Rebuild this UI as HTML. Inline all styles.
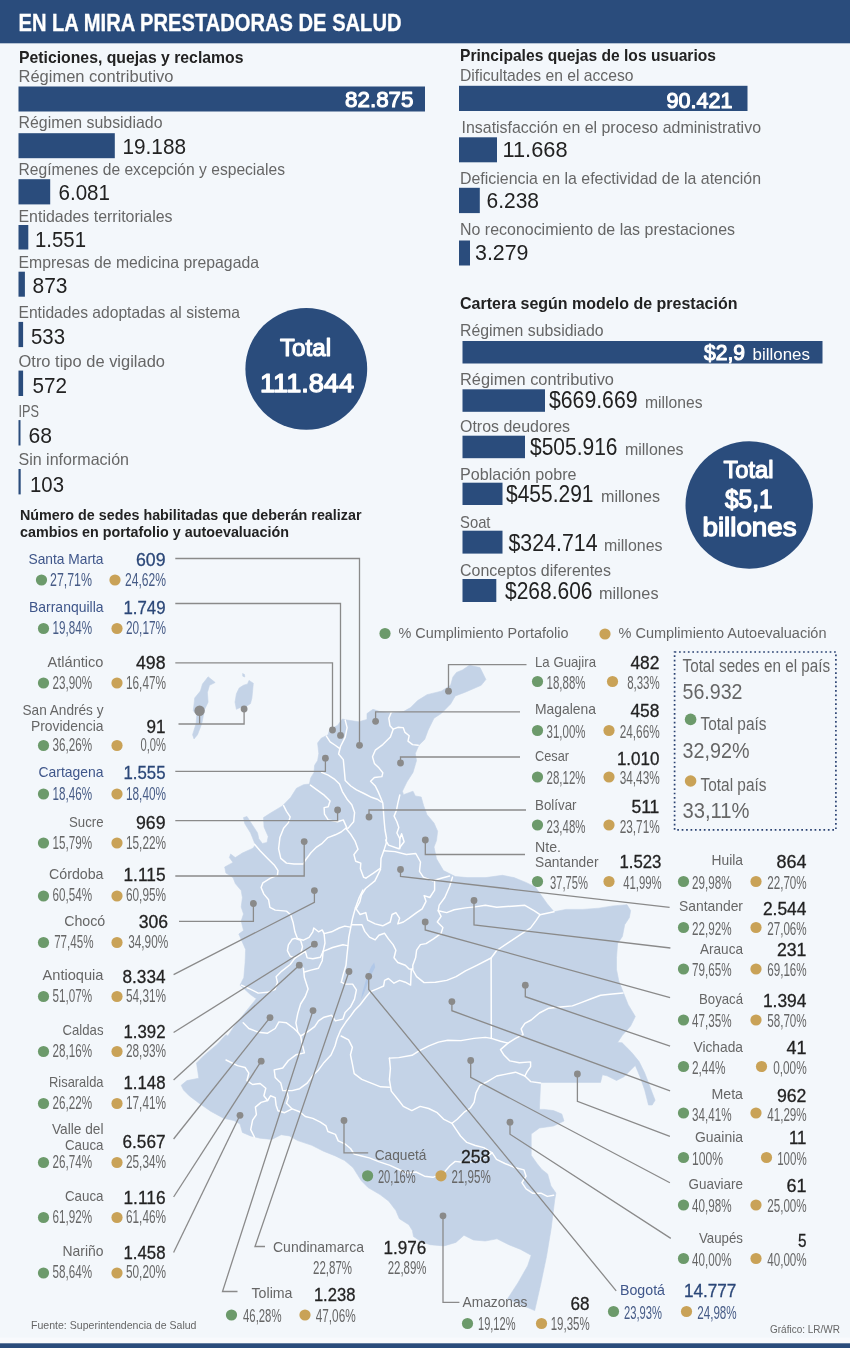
<!DOCTYPE html>
<html lang="es"><head><meta charset="utf-8"><title>En la mira prestadoras de salud</title>
<style>
html,body{margin:0;padding:0;background:#f3f7fb;}
body{width:850px;height:1348px;overflow:hidden;}
svg{display:block;font-family:"Liberation Sans",Arial,sans-serif;}
</style></head><body>
<svg width="850" height="1348" viewBox="0 0 850 1348">
<rect x="0" y="0" width="850" height="1348" fill="#f3f7fb"/>
<rect x="0" y="0" width="850" height="43.3" fill="#2a4c7c"/>
<text x="18.5" y="30.5" font-size="23.5" fill="#ffffff" font-weight="700" textLength="383" lengthAdjust="spacingAndGlyphs" stroke="#ffffff" stroke-width="0.3">EN LA MIRA PRESTADORAS DE SALUD</text>
<rect x="0" y="1337.5" width="850" height="6" fill="#f8fafd"/>
<rect x="0" y="1343.3" width="850" height="4.7" fill="#2a4c7c"/>
<text x="19" y="62.5" font-size="15.7" fill="#222222" font-weight="700" textLength="224.5" lengthAdjust="spacingAndGlyphs">Peticiones, quejas y reclamos</text>
<text x="18.5" y="81.5" font-size="16.5" fill="#666666" textLength="155" lengthAdjust="spacingAndGlyphs">Régimen contributivo</text>
<rect x="18.5" y="86.5" width="406.5" height="25" fill="#2a4c7c"/>
<text x="413.5" y="106.5" font-size="22" fill="#fff" text-anchor="end" textLength="68.5" lengthAdjust="spacingAndGlyphs" stroke="#fff" stroke-width="1.1" stroke-linejoin="round">82.875</text>
<text x="18.5" y="128.3" font-size="16.5" fill="#666666" textLength="144" lengthAdjust="spacingAndGlyphs">Régimen subsidiado</text>
<rect x="18.5" y="133.2" width="96.3" height="25" fill="#2a4c7c"/>
<text x="122.5" y="154" font-size="22" fill="#222222" textLength="63.5" lengthAdjust="spacingAndGlyphs">19.188</text>
<text x="18.5" y="175" font-size="16.5" fill="#666666" textLength="266.5" lengthAdjust="spacingAndGlyphs">Regímenes de excepción y especiales</text>
<rect x="18.5" y="179.2" width="31.7" height="25.2" fill="#2a4c7c"/>
<text x="58.5" y="200" font-size="22" fill="#222222" textLength="51.5" lengthAdjust="spacingAndGlyphs">6.081</text>
<text x="18.5" y="221.5" font-size="16.5" fill="#666666" textLength="154" lengthAdjust="spacingAndGlyphs">Entidades territoriales</text>
<rect x="18.5" y="225" width="9.8" height="24.5" fill="#2a4c7c"/>
<text x="35" y="246.5" font-size="22" fill="#222222" textLength="51" lengthAdjust="spacingAndGlyphs">1.551</text>
<text x="18.5" y="267.5" font-size="16.5" fill="#666666" textLength="240.5" lengthAdjust="spacingAndGlyphs">Empresas de medicina prepagada</text>
<rect x="18.5" y="271.7" width="6.4" height="25" fill="#2a4c7c"/>
<text x="32.5" y="292.5" font-size="22" fill="#222222" textLength="35" lengthAdjust="spacingAndGlyphs">873</text>
<text x="18.5" y="317.5" font-size="16.5" fill="#666666" textLength="221.5" lengthAdjust="spacingAndGlyphs">Entidades adoptadas al sistema</text>
<rect x="18.5" y="321.9" width="4.6" height="25.2" fill="#2a4c7c"/>
<text x="31" y="344" font-size="22" fill="#222222" textLength="34" lengthAdjust="spacingAndGlyphs">533</text>
<text x="18.5" y="366.5" font-size="16.5" fill="#666666" textLength="146.5" lengthAdjust="spacingAndGlyphs">Otro tipo de vigilado</text>
<rect x="18.5" y="370.6" width="4.6" height="25.4" fill="#2a4c7c"/>
<text x="32.5" y="393" font-size="22" fill="#222222" textLength="34.5" lengthAdjust="spacingAndGlyphs">572</text>
<text x="18.5" y="416.5" font-size="16.5" fill="#666666" textLength="20.5" lengthAdjust="spacingAndGlyphs">IPS</text>
<rect x="18.5" y="420.1" width="2" height="25.4" fill="#2a4c7c"/>
<text x="28.5" y="442.5" font-size="22" fill="#222222" textLength="23.5" lengthAdjust="spacingAndGlyphs">68</text>
<text x="18.5" y="465" font-size="16.5" fill="#666666" textLength="110.5" lengthAdjust="spacingAndGlyphs">Sin información</text>
<rect x="18.5" y="469" width="2.2" height="25.4" fill="#2a4c7c"/>
<text x="30" y="492" font-size="22" fill="#222222" textLength="34" lengthAdjust="spacingAndGlyphs">103</text>
<circle cx="306.3" cy="368.9" r="60.9" fill="#2a4c7c"/>
<text x="305.5" y="355.6" font-size="23.3" fill="#fff" text-anchor="middle" textLength="51" lengthAdjust="spacingAndGlyphs" stroke="#fff" stroke-width="1.17" stroke-linejoin="round">Total</text>
<text x="307" y="391.7" font-size="25" fill="#fff" text-anchor="middle" textLength="94" lengthAdjust="spacingAndGlyphs" stroke="#fff" stroke-width="1.25" stroke-linejoin="round">111.844</text>
<text x="460" y="61" font-size="15.7" fill="#222222" font-weight="700" textLength="256" lengthAdjust="spacingAndGlyphs">Principales quejas de los usuarios</text>
<text x="460" y="81" font-size="17" fill="#666666" textLength="173.5" lengthAdjust="spacingAndGlyphs">Dificultades en el acceso</text>
<rect x="459" y="85.8" width="288.5" height="25.2" fill="#2a4c7c"/>
<text x="732.5" y="107.5" font-size="22" fill="#fff" text-anchor="end" textLength="66" lengthAdjust="spacingAndGlyphs" stroke="#fff" stroke-width="1.1" stroke-linejoin="round">90.421</text>
<text x="461.5" y="133.3" font-size="17" fill="#666666" textLength="299.5" lengthAdjust="spacingAndGlyphs">Insatisfacción en el proceso administrativo</text>
<rect x="459" y="137.3" width="38" height="25" fill="#2a4c7c"/>
<text x="502.5" y="156.5" font-size="22" fill="#222222" textLength="65" lengthAdjust="spacingAndGlyphs">11.668</text>
<text x="460" y="183.5" font-size="17" fill="#666666" textLength="301" lengthAdjust="spacingAndGlyphs">Deficiencia en la efectividad de la atención</text>
<rect x="459" y="187.8" width="20.8" height="25.3" fill="#2a4c7c"/>
<text x="486.5" y="207.5" font-size="22" fill="#222222" textLength="52.5" lengthAdjust="spacingAndGlyphs">6.238</text>
<text x="460" y="234.8" font-size="17" fill="#666666" textLength="275" lengthAdjust="spacingAndGlyphs">No reconocimiento de las prestaciones</text>
<rect x="459" y="240.5" width="11" height="25" fill="#2a4c7c"/>
<text x="475" y="260" font-size="22" fill="#222222" textLength="53.5" lengthAdjust="spacingAndGlyphs">3.279</text>
<text x="460" y="308.5" font-size="15.7" fill="#222222" font-weight="700" textLength="277.5" lengthAdjust="spacingAndGlyphs">Cartera según modelo de prestación</text>
<text x="460" y="336" font-size="17" fill="#666666" textLength="143.5" lengthAdjust="spacingAndGlyphs">Régimen subsidiado</text>
<rect x="462.5" y="341" width="360" height="22.5" fill="#2a4c7c"/>
<text x="704" y="359.5" font-size="22.5" fill="#fff" textLength="41" lengthAdjust="spacingAndGlyphs" stroke="#fff" stroke-width="1.12" stroke-linejoin="round">$2,9</text>
<text x="752.5" y="359.5" font-size="17" fill="#fff" textLength="57.5" lengthAdjust="spacingAndGlyphs">billones</text>
<text x="460" y="384.5" font-size="17" fill="#666666" textLength="154" lengthAdjust="spacingAndGlyphs">Régimen contributivo</text>
<rect x="462.5" y="389.3" width="82.5" height="22.5" fill="#2a4c7c"/>
<text x="549" y="408.1" font-size="23.2" fill="#222222" textLength="88.5" lengthAdjust="spacingAndGlyphs">$669.669</text>
<text x="645" y="408.1" font-size="17" fill="#666666" textLength="57.5" lengthAdjust="spacingAndGlyphs">millones</text>
<text x="460" y="432" font-size="17" fill="#666666" textLength="110" lengthAdjust="spacingAndGlyphs">Otros deudores</text>
<rect x="462.5" y="435.7" width="62.5" height="22.5" fill="#2a4c7c"/>
<text x="530" y="454.6" font-size="23.2" fill="#222222" textLength="87.5" lengthAdjust="spacingAndGlyphs">$505.916</text>
<text x="625" y="454.6" font-size="17" fill="#666666" textLength="58.5" lengthAdjust="spacingAndGlyphs">millones</text>
<text x="460" y="479.6" font-size="17" fill="#666666" textLength="116.5" lengthAdjust="spacingAndGlyphs">Población pobre</text>
<rect x="462.5" y="482.7" width="40" height="22.3" fill="#2a4c7c"/>
<text x="506" y="502.1" font-size="23.2" fill="#222222" textLength="87.5" lengthAdjust="spacingAndGlyphs">$455.291</text>
<text x="601" y="502.1" font-size="17" fill="#666666" textLength="59" lengthAdjust="spacingAndGlyphs">millones</text>
<text x="460" y="527.5" font-size="17" fill="#666666" textLength="30.5" lengthAdjust="spacingAndGlyphs">Soat</text>
<rect x="462.5" y="530.7" width="40" height="22.9" fill="#2a4c7c"/>
<text x="508.5" y="550.6" font-size="23.2" fill="#222222" textLength="89" lengthAdjust="spacingAndGlyphs">$324.714</text>
<text x="604" y="550.6" font-size="17" fill="#666666" textLength="58.5" lengthAdjust="spacingAndGlyphs">millones</text>
<text x="460" y="575.5" font-size="17" fill="#666666" textLength="151" lengthAdjust="spacingAndGlyphs">Conceptos diferentes</text>
<rect x="462.5" y="579" width="33.8" height="23" fill="#2a4c7c"/>
<text x="505" y="599.1" font-size="23.2" fill="#222222" textLength="87.5" lengthAdjust="spacingAndGlyphs">$268.606</text>
<text x="599" y="599.1" font-size="17" fill="#666666" textLength="59.5" lengthAdjust="spacingAndGlyphs">millones</text>
<circle cx="749.2" cy="505" r="63.7" fill="#2a4c7c"/>
<text x="748.5" y="477.5" font-size="23.3" fill="#fff" text-anchor="middle" textLength="50" lengthAdjust="spacingAndGlyphs" stroke="#fff" stroke-width="1.17" stroke-linejoin="round">Total</text>
<text x="748.75" y="507.5" font-size="26.5" fill="#fff" text-anchor="middle" textLength="47.5" lengthAdjust="spacingAndGlyphs" stroke="#fff" stroke-width="1.33" stroke-linejoin="round">$5,1</text>
<text x="749.5" y="536" font-size="26.5" fill="#fff" text-anchor="middle" textLength="94" lengthAdjust="spacingAndGlyphs" stroke="#fff" stroke-width="1.33" stroke-linejoin="round">billones</text>
<text x="20" y="520" font-size="15.5" fill="#222222" font-weight="700" textLength="341.5" lengthAdjust="spacingAndGlyphs">Número de sedes habilitadas que deberán realizar</text>
<text x="20" y="537" font-size="15.5" fill="#222222" font-weight="700" textLength="269" lengthAdjust="spacingAndGlyphs">cambios en portafolio y autoevaluación</text>
<g id="map">
<polygon points="485.9,679.4 481.2,685.3 464.7,692.4 455.3,695.9 450.6,704 441.2,713.5 434,718.2 428.2,730 424.7,739.4 418.8,745.3 415.3,753.5 416.5,760.6 413,772.4 407,781.8 402.4,791.2 403.5,794.7 413,791.2 415.3,795.9 421.2,797 423.5,805.3 427,814.7 434,823 437.6,831.2 436.5,840.6 434,847 436.5,858.8 443.5,870.6 455.3,876.5 467,877.6 485.9,877.6 502.4,875.3 514,877.6 525.9,882.4 535.3,887 547,903.5 554,911.8 565.9,909.4 582.4,909.4 598.8,908.2 613,905.9 627,904.7 630.6,910.6 629.4,917.6 624.7,924.7 622.4,936.5 617.6,943.5 616.5,957.6 616.5,969.4 618.8,981 623.5,993 628.2,1004.7 635.3,1016.5 630.6,1026 622.4,1035.3 617.6,1042.4 622.1,1042.8 631.5,1052.2 639.1,1061.6 644.7,1072.9 650.4,1088 655.1,1100.2 652.2,1105 648.5,1105 644.7,1089.9 640,1076.7 635.3,1065.4 631.5,1069.2 624,1076.7 616.5,1080.5 607,1075.8 602.4,1074.8 600.5,1082.4 540.6,1082.4 539.4,1109.4 544,1109.4 553.5,1110.6 561.8,1114 564,1121 553.5,1126 539.4,1128 531.2,1134 531.2,1155.3 537,1163.5 541.8,1169.4 547.6,1174 551,1186 555.9,1193 554.7,1200 551.2,1228.2 546.5,1256.5 540.6,1284.7 534.7,1310.6 507.6,1298.8 518.2,1282.4 527.6,1265.9 531.2,1255.3 520.6,1249.4 508.8,1244.7 497,1238.8 485.3,1241 473.5,1240 464,1235.3 455.9,1242.4 444,1245.9 430,1244.7 420.6,1241.2 413.5,1236.5 412.4,1230.6 408.8,1224.7 399.4,1218.8 395.9,1210.6 388.8,1201.2 380,1194.6 368,1187.5 361.2,1180.6 353,1167.6 344.7,1160.6 335.3,1155.9 323.5,1151.2 311.8,1145.3 297.6,1140.6 289.4,1135.9 281.2,1134.7 271.8,1139.4 260,1138.2 250.6,1135.9 242.4,1132.4 240,1124 234,1120.6 223.5,1118.2 210.6,1111.2 198.8,1103 189.4,1095.9 183.5,1090 181.2,1085.3 187,1080.6 198.8,1078.2 197.6,1070 196.5,1063 203.5,1055.9 217.6,1044 225.9,1034.7 227.8,1036 235.3,1024.7 242.8,1015.3 250.4,1005.9 256.4,998.7 250.4,994.6 244.7,989.3 240,985.2 243.8,977.6 245.1,962.6 245.6,949.4 242.5,942.4 238.8,934 243.5,930.6 241.2,921 243.5,914 241.2,907 242.4,897.6 241.2,890.6 235.3,883.5 233,877.6 225.9,873 224.7,867 233,862.4 229.4,857.6 230.6,854 235.3,857.6 242.4,853 253,848.2 255.3,844.7 250.6,833 244.7,823.5 243.5,817.6 247,816.5 253,825.9 257.6,833 258.8,838.8 262.4,843.5 267,842.4 268.2,836.5 264,827 263.5,817.6 270.6,813 282.4,805.9 290.6,797.6 296.5,788.2 303.5,784.7 309.4,784 310.6,778.2 314,772.4 314.6,765.3 317.6,760.6 318.8,753.5 317.6,743 321.2,738.2 328.2,734.7 329.4,730 337.6,725.3 342.4,719 347,720 358.8,721.8 367,719.4 367,713.5 373,709.3 380,711.6 391.8,713 403.5,711.6 410.6,707.6 417.6,700.6 427,694.7 441.2,691.2 450.6,685.3 452.9,677 456.5,672.4 462.4,670 469.4,665.3 480,667.6" fill="#c4d3e7" stroke="#c4d3e7" stroke-width="0.6" stroke-linejoin="round"/>
<polygon points="208.1,676.8 215.2,682.5 209.5,685.3 207.4,692.4 208.1,702.2 204.6,709.3 201.8,723.4 197.5,734.7 194,738.9 192.6,734.7 196.1,723.4 196.8,715 193.3,710.7 194.7,698 200.4,691 202.5,683.9 206,679.6" fill="#c4d3e7" stroke="#c4d3e7" stroke-width="0.6" stroke-linejoin="round"/>
<polygon points="249,680.4 253.3,683.2 252.6,691 251.9,698 250.5,703.6 246.2,706.5 239.2,707.9 236.4,709.3 235,702.2 236.4,693.8 239.2,688 243.4,685.3 247.6,683.9" fill="#c4d3e7" stroke="#c4d3e7" stroke-width="0.6" stroke-linejoin="round"/>
<polygon points="242.6,673.5 244.5,674.5 244.8,677 242.8,676.2" fill="#c4d3e7" stroke="#c4d3e7" stroke-width="0.6" stroke-linejoin="round"/>
<polyline points="391.3,712.2 388.8,718.2 390,725.8 393.2,729.2 397.9,727.3 403.2,727.6 405,732.4 409.2,735.7 408,741.2 412.6,744.6 418.2,745.2" fill="none" stroke="#ffffff" stroke-width="1.45" stroke-linejoin="round" stroke-linecap="round"/>
<polyline points="393.2,729.2 390.4,737.1 382.8,744.6 375.3,750.2 372.5,756.8 374.4,763.4 379.1,768.1 382.8,772.8 381.9,776.6 374.4,777.5 370.6,781.3 375.3,786 378.1,791.6 380.9,798.2 382.8,802.9 383.4,810.5 384,819 385,830 386.5,838 386.2,843.3 384.4,848.9 381,858.4 380.6,868.1 373.1,873.4 365.9,878.1" fill="none" stroke="#ffffff" stroke-width="1.45" stroke-linejoin="round" stroke-linecap="round"/>
<polyline points="345.2,720.1 347.1,727.6 345.2,737.1 340.5,746.5 338.6,754 343.3,759.6 344.2,769.1 345.2,780.4 350.8,786 356.5,789.8 364,793.5 371.5,797.3 377.2,799.2 381.3,802" fill="none" stroke="#ffffff" stroke-width="1.45" stroke-linejoin="round" stroke-linecap="round"/>
<polyline points="326.4,736.1 330.1,741.8 334.8,745 339.5,748.4" fill="none" stroke="#ffffff" stroke-width="1.45" stroke-linejoin="round" stroke-linecap="round"/>
<polyline points="321.6,772.4 328.2,775.1 334.8,779.4 339.5,784.1 342.4,791.6 347.1,799.2 351.8,804.8 354.6,812.4 353.6,821.8 348,828.4" fill="none" stroke="#ffffff" stroke-width="1.45" stroke-linejoin="round" stroke-linecap="round"/>
<polyline points="310.4,785.1 316.9,789.8 324.5,795.4 330.1,801.1 328.2,806.7 324.1,807.6 324.5,814.2 328.2,819.9 337.6,821.8 343.3,819.9 347.1,828.4" fill="none" stroke="#ffffff" stroke-width="1.45" stroke-linejoin="round" stroke-linecap="round"/>
<polyline points="399.8,795 397.9,802.9 396.4,810.5 394.1,816.1 396.9,821.8 398.8,827.4 396.9,833 399.8,838.7 399.8,848.8" fill="none" stroke="#ffffff" stroke-width="1.45" stroke-linejoin="round" stroke-linecap="round"/>
<polyline points="283.6,805.6 286.5,811.3 290.2,816.9 288.4,822.6 283.6,828.2 279.9,837.6 278.6,848.9 280.8,858.4 286.5,863.1 294,864 303.4,864 305.3,860.2 310.9,852.7 316.6,847.1 322.2,843.3 327.9,837.6 335.4,834.8 341.1,832 345.8,828.2" fill="none" stroke="#ffffff" stroke-width="1.45" stroke-linejoin="round" stroke-linecap="round"/>
<polyline points="254.5,844.2 260.1,850.8 267.6,858.4 274.2,864.9 278,870.6 277.4,875.3 270.5,878.1 262.9,882.8 261.1,887.5 263.9,894.1 268.6,899.8 269.9,907.3 275.2,910.1 286.5,911.1 290.6,914.8 293.1,922.4 294.9,931.8 297.4,938.4" fill="none" stroke="#ffffff" stroke-width="1.45" stroke-linejoin="round" stroke-linecap="round"/>
<polyline points="292.1,939.3 288.4,944.9 287.4,950.6 290.2,956.2 294.9,958.1 300.6,954.4 302.5,946.8 300.6,940.2 294.9,938.4 292.1,939.3" fill="none" stroke="#ffffff" stroke-width="1.45" stroke-linejoin="round" stroke-linecap="round"/>
<polyline points="297.4,938.4 303.4,940.2 309.1,937.4 312.8,931.8 313.8,928 318.5,931.8 322.2,929.9 324.1,933.6 331.6,931.8 339.2,928 344.8,926.1 350.5,927.1" fill="none" stroke="#ffffff" stroke-width="1.45" stroke-linejoin="round" stroke-linecap="round"/>
<polyline points="345.8,828.2 350.5,833.9 355.2,841.4 358,849.3 353.9,854.6 355.7,861.2 360.8,863.1 360.4,868.7 363.6,877.2 365.9,878.1" fill="none" stroke="#ffffff" stroke-width="1.45" stroke-linejoin="round" stroke-linecap="round"/>
<polyline points="380.6,869.3 374.9,880.9 365.5,888.5 361.4,895.1 359.9,901.6 356.1,908.8" fill="none" stroke="#ffffff" stroke-width="1.45" stroke-linejoin="round" stroke-linecap="round"/>
<polyline points="362.9,890 359.2,897.5 355.4,907.9 352.6,918.2 350.7,927.6 348.8,937.1 347.9,946.5 346.9,955.9 346,965.3 343.2,974.7 341.3,982.2" fill="none" stroke="#ffffff" stroke-width="1.45" stroke-linejoin="round" stroke-linecap="round"/>
<polyline points="355.4,907.9 360.1,914.5 365.8,912.6 367.6,920.1 375.2,923.9 382.7,925.8 390.2,922 392.1,914.5 395.9,912.6 399.6,918.2 397.8,923.9 403.4,922 409.1,918.2 416.6,912.6 422.2,908.8 426,901.3 424.1,895.6 429.8,897.5 434.6,890.2 434.6,881.8" fill="none" stroke="#ffffff" stroke-width="1.45" stroke-linejoin="round" stroke-linecap="round"/>
<polyline points="351.6,924.8 362,924.8 364.8,931.4 369.5,937.1 375.2,939.9 378.9,935.2 384.6,933.3 388.4,938.9 393.1,944.6 395.9,950.2 394,957.8 397.8,962.5 405.3,965.3 409.1,969.1 412.8,969.1" fill="none" stroke="#ffffff" stroke-width="1.45" stroke-linejoin="round" stroke-linecap="round"/>
<polyline points="452.5,877.1 449.6,886.5 444.8,897.5 439.2,905.1 438.2,910.7 441.1,916.4 437.3,922 442.9,927.6 441.1,933.3 433.5,938.9 426,943.6 420.4,944.6 416.6,950.2 415.6,957.8 412.8,965.3 412.8,969.1" fill="none" stroke="#ffffff" stroke-width="1.45" stroke-linejoin="round" stroke-linecap="round"/>
<polyline points="438.2,910.7 446.7,912.6 454.2,909.8 465.5,907.9 474.9,906.9 485.4,905.3 496.7,907.2 511.8,906.2 524.9,905.3 534.4,910.9 540,914.7" fill="none" stroke="#ffffff" stroke-width="1.45" stroke-linejoin="round" stroke-linecap="round"/>
<polyline points="554,911.8 540,914.7 536.2,920.4 530.6,927.9 519.3,935.4 508,942.9 496.7,950.5 491.1,958 491.3,1038.4" fill="none" stroke="#ffffff" stroke-width="1.45" stroke-linejoin="round" stroke-linecap="round"/>
<polyline points="412.8,970 416.6,976.6 424.1,982.6 435.4,982.2 446.7,980.4 456.1,976.6 465.5,970.9 476.8,965.3 491.1,958" fill="none" stroke="#ffffff" stroke-width="1.45" stroke-linejoin="round" stroke-linecap="round"/>
<polyline points="383.8,850.7 395.1,851.6 406.4,854.5 415.8,853.5 420.5,862 419.5,871.4 423.3,877.1 432.7,880.8 442.1,878 449.6,876" fill="none" stroke="#ffffff" stroke-width="1.45" stroke-linejoin="round" stroke-linecap="round"/>
<polyline points="385.6,840 388.5,845.1 398.8,848.8 404.1,841.7 401.6,833.8 399.8,838.7" fill="none" stroke="#ffffff" stroke-width="1.45" stroke-linejoin="round" stroke-linecap="round"/>
<polyline points="411.3,969.1 410.6,985.1 405.3,982.2 399.6,980.4 394,983.2 388.4,978.5 384.6,980.4 383.6,986 377.1,988.8 370.5,991.6 365.8,997.3 360.1,1004.8 354.5,1010.5 350.5,1016.1 346,1021.8 341,1029.3 337,1038.8 335,1046 331,1055 324.1,1062.4 318.5,1069.9 312.8,1075.5 307.2,1083.1 299.6,1088.7 292.1,1090.6 282.7,1090.6 280.8,1083.1 275.2,1077.4 274.2,1069.9 282.7,1068 288.4,1060.5 295.9,1054.8 304.4,1052.9 302.5,1045.4 300.6,1036" fill="none" stroke="#ffffff" stroke-width="1.45" stroke-linejoin="round" stroke-linecap="round"/>
<polyline points="323.2,951.3 332.6,947.5 342.9,944.7 347.6,945.6" fill="none" stroke="#ffffff" stroke-width="1.45" stroke-linejoin="round" stroke-linecap="round"/>
<polyline points="341.3,982.2 345.1,984.1 352.6,984.1 356.4,989.8 354.5,999.2 350.7,1006.7 345.1,1012.4 342.9,1019.1 335.4,1020.9 331.6,1015.3 324.1,1017.2 318.5,1020.9 314.7,1026.6 307.2,1032.2 300.6,1036" fill="none" stroke="#ffffff" stroke-width="1.45" stroke-linejoin="round" stroke-linecap="round"/>
<polyline points="323.2,951.3 322.2,960.7 318.5,968.2 310.9,970.1 304.4,972" fill="none" stroke="#ffffff" stroke-width="1.45" stroke-linejoin="round" stroke-linecap="round"/>
<polyline points="300.6,954.4 305.3,951.3 307.2,957.9 312.8,958.8 320.4,957.3 323.2,951.3" fill="none" stroke="#ffffff" stroke-width="1.45" stroke-linejoin="round" stroke-linecap="round"/>
<polyline points="324.1,933.6 325,943 323.2,951.3" fill="none" stroke="#ffffff" stroke-width="1.45" stroke-linejoin="round" stroke-linecap="round"/>
<polyline points="241.3,985.2 250.7,989.3 258.2,993.1 267.6,992.3 275.2,989.3 277.4,982.4 276.1,976.7 281.8,971.1 290.2,964.5 294.9,958.1" fill="none" stroke="#ffffff" stroke-width="1.45" stroke-linejoin="round" stroke-linecap="round"/>
<polyline points="303.4,968.2 304.4,977.6 308.1,988.9 305.3,996.5 300.6,1004 297.8,1013.4 295.9,1022.8 297.8,1032.2 300.6,1036" fill="none" stroke="#ffffff" stroke-width="1.45" stroke-linejoin="round" stroke-linecap="round"/>
<polyline points="243.2,1022.8 248.8,1028.5 258.2,1032.2 267.6,1033.2 275.2,1028.5 278.9,1021.9 286.5,1022.8 294,1028.5 297.8,1032.2" fill="none" stroke="#ffffff" stroke-width="1.45" stroke-linejoin="round" stroke-linecap="round"/>
<polyline points="341.1,1036 348.6,1039.8 352.4,1047.3 350.5,1054.8 352.4,1064.2 354.2,1073.6 361.8,1079.3 371.2,1083.1 380.6,1086.8 389.4,1087.3" fill="none" stroke="#ffffff" stroke-width="1.45" stroke-linejoin="round" stroke-linecap="round"/>
<polyline points="389.4,1058.1 398.8,1057.6 412,1055.3 419.5,1050.6 428.9,1045.9 438.4,1042.1 447.8,1040.2 460.9,1040.6 474.1,1038.4 485.4,1037.4 491.4,1038.4 500.5,1041.2 508,1043.1 515.5,1038.4 523.1,1034.6 521.2,1028.9 524.9,1023.3 531.2,1020 539.4,1013 548.8,1008.2 560.6,1007 572.4,1005.9 581.8,1002.4 591.2,998.8 600.6,995.3 612.4,994 623,993" fill="none" stroke="#ffffff" stroke-width="1.45" stroke-linejoin="round" stroke-linecap="round"/>
<polyline points="508,1043.1 500.5,1049.6 504.2,1055.3 509.9,1060.9 519.3,1062.8 530.6,1061.9 530.6,1066.6 526.8,1072.2 524.9,1076 530.6,1081.6 540.6,1083" fill="none" stroke="#ffffff" stroke-width="1.45" stroke-linejoin="round" stroke-linecap="round"/>
<polyline points="524.9,1076 515.5,1072.2 506.1,1074.1 496.7,1076 487.3,1081.6 479.8,1085.4 476,1092.9 474.1,1102.4 470.4,1108 464.7,1111.8 457.2,1119.3 452,1123.3" fill="none" stroke="#ffffff" stroke-width="1.45" stroke-linejoin="round" stroke-linecap="round"/>
<polyline points="389.4,1058.1 390.4,1068.5 389.4,1079.8 391.3,1091.1 398.8,1100.5 403.3,1106.4 411.8,1110.6 420.2,1106.4 428.7,1108.5 437.2,1112.7 443.5,1119.1 452,1123.3 456.2,1129.6 460.5,1136 466.8,1142.4 475.3,1145.5 483.8,1147.6 492.2,1152.9 496.5,1159.3 504.9,1163.5 515.5,1167.8 524,1169.9 526.1,1176.2 521.9,1182.6 526.1,1188.9 532.5,1193.2 540.9,1193.2 547.3,1196.4 553.7,1195.3" fill="none" stroke="#ffffff" stroke-width="1.45" stroke-linejoin="round" stroke-linecap="round"/>
<polyline points="286.5,1103.3 292.1,1108.9 299.6,1111.8 305.3,1116.5 312.8,1118.4 320.4,1122.1 326,1125.9 327.9,1131.5 335.4,1134.4 338.2,1140.9 344.8,1143.8 350.5,1148.5 354.2,1154.1 361.8,1156 369.3,1157.9 378.7,1161.6 390,1165.4 400,1170 407.5,1173.1 416,1172 424.5,1176.2 432.9,1177.3 443.5,1173.1 449.9,1165.7 455.2,1161.4 464.7,1162.5 475.3,1161.4 485.9,1157.2 492.2,1152.9" fill="none" stroke="#ffffff" stroke-width="1.45" stroke-linejoin="round" stroke-linecap="round"/>
<polyline points="254.5,1137.2 250.7,1129.6 252.6,1120.2 256.4,1114.6 255.4,1107.1 261.1,1102.4 267.6,1100.5 270.5,1095.8 275.2,1097.6 276.1,1105.2 278,1110.8 284.6,1112.7 292.1,1108.9" fill="none" stroke="#ffffff" stroke-width="1.45" stroke-linejoin="round" stroke-linecap="round"/>
<polyline points="226,1060 237.5,1065.6 245.1,1067.5 248.8,1073.2 246.9,1080.7 252.6,1084.5 260.1,1083.5 265.8,1088.2 263.9,1095.8 267.6,1100.5" fill="none" stroke="#ffffff" stroke-width="1.45" stroke-linejoin="round" stroke-linecap="round"/>
<polyline points="286.5,1090.1 288.4,1097.6 286.5,1103.3" fill="none" stroke="#ffffff" stroke-width="1.45" stroke-linejoin="round" stroke-linecap="round"/>
<polygon points="374.2,962.5 375.2,967.2 372.4,972.8 369.5,978.5 366.7,986 363.9,993.5 361.1,999.2 362,993.5 364.8,984.1 367.6,974.7 371.4,966.2" fill="#b1c8e8"/>
</g>
<circle cx="385" cy="633.5" r="5.6" fill="#6c9a6b"/>
<text x="398.5" y="637.5" font-size="15.5" fill="#666666" textLength="170" lengthAdjust="spacingAndGlyphs">% Cumplimiento Portafolio</text>
<circle cx="605" cy="634" r="5.6" fill="#c9a257"/>
<text x="618.5" y="637.5" font-size="15.5" fill="#666666" textLength="208" lengthAdjust="spacingAndGlyphs">% Cumplimiento Autoevaluación</text>
<rect x="674.6" y="652" width="161.3" height="177.9" fill="none" stroke="#2a4272" stroke-width="1.7" stroke-dasharray="1.7 2.73"/>
<text x="682.5" y="671.8" font-size="17.5" fill="#666666" textLength="147.7" lengthAdjust="spacingAndGlyphs">Total sedes en el país</text>
<text x="682.5" y="699.4" font-size="22.5" fill="#666666" textLength="60" lengthAdjust="spacingAndGlyphs">56.932</text>
<circle cx="690.6" cy="719.4" r="5.8" fill="#6c9a6b"/>
<text x="700.5" y="729.8" font-size="17.5" fill="#666666" textLength="66" lengthAdjust="spacingAndGlyphs">Total país</text>
<text x="682.5" y="757.5" font-size="22.5" fill="#666666" textLength="67" lengthAdjust="spacingAndGlyphs">32,92%</text>
<circle cx="690.6" cy="781" r="5.8" fill="#c9a257"/>
<text x="700.5" y="790.8" font-size="17.5" fill="#666666" textLength="66" lengthAdjust="spacingAndGlyphs">Total país</text>
<text x="682.5" y="818.2" font-size="22.5" fill="#666666" textLength="67" lengthAdjust="spacingAndGlyphs">33,11%</text>
<polyline points="175.3,558.5 359.5,558.5 359.5,745.3" fill="none" stroke="#8a8a8a" stroke-width="1.3"/>
<polyline points="175.3,603.5 340.5,603.5 340.5,735.4" fill="none" stroke="#8a8a8a" stroke-width="1.3"/>
<polyline points="175.3,662.8 332.5,662.8 332.5,730" fill="none" stroke="#8a8a8a" stroke-width="1.3"/>
<polyline points="178.5,724 244.1,724 244.1,709" fill="none" stroke="#8a8a8a" stroke-width="1.3"/>
<polyline points="199.6,710.7 199.6,724" fill="none" stroke="#8a8a8a" stroke-width="1.3"/>
<polyline points="175.3,771.3 325.4,771.3 325.4,758.2" fill="none" stroke="#8a8a8a" stroke-width="1.3"/>
<polyline points="175.3,820.6 337.6,820.6 337.6,810" fill="none" stroke="#8a8a8a" stroke-width="1.3"/>
<polyline points="175.3,876 304.2,876 304.2,841.6" fill="none" stroke="#8a8a8a" stroke-width="1.3"/>
<polyline points="179,921.3 253.4,921.3 253.4,903.5" fill="none" stroke="#8a8a8a" stroke-width="1.3"/>
<polyline points="173.6,974.6 314.4,902.4 314.4,890.6" fill="none" stroke="#8a8a8a" stroke-width="1.3"/>
<polyline points="173.6,1032.5 314.4,944.2" fill="none" stroke="#8a8a8a" stroke-width="1.3"/>
<polyline points="173.6,1080 299.3,965.2" fill="none" stroke="#8a8a8a" stroke-width="1.3"/>
<polyline points="173.6,1139 270,1017.6" fill="none" stroke="#8a8a8a" stroke-width="1.3"/>
<polyline points="173.6,1197 261.2,1061.2" fill="none" stroke="#8a8a8a" stroke-width="1.3"/>
<polyline points="173.6,1252.5 240,1115.3" fill="none" stroke="#8a8a8a" stroke-width="1.3"/>
<polyline points="265,1246.5 255,1246.5 349,971.5" fill="none" stroke="#8a8a8a" stroke-width="1.3"/>
<polyline points="237.5,1291.5 222.5,1291.5 313,1010.6" fill="none" stroke="#8a8a8a" stroke-width="1.3"/>
<polyline points="526.5,664.7 448.5,664.7 448.5,691.2" fill="none" stroke="#8a8a8a" stroke-width="1.3"/>
<polyline points="520,711.9 375.6,711.9 375.6,721.3" fill="none" stroke="#8a8a8a" stroke-width="1.3"/>
<polyline points="520,757 400.5,757 400.5,763" fill="none" stroke="#8a8a8a" stroke-width="1.3"/>
<polyline points="526,810 369,810 369,817" fill="none" stroke="#8a8a8a" stroke-width="1.3"/>
<polyline points="525,854.5 425.3,854.5 425.3,840" fill="none" stroke="#8a8a8a" stroke-width="1.3"/>
<polyline points="669.6,907.4 400.5,876.4 400.5,869.5" fill="none" stroke="#8a8a8a" stroke-width="1.3"/>
<polyline points="670.4,948 474,924.9 474,900.5" fill="none" stroke="#8a8a8a" stroke-width="1.3"/>
<polyline points="670.1,997.6 425.2,930 425.2,921.9" fill="none" stroke="#8a8a8a" stroke-width="1.3"/>
<polyline points="670.1,1046.2 525.3,996.7 525.3,985.2" fill="none" stroke="#8a8a8a" stroke-width="1.3"/>
<polyline points="670.1,1090.8 451.9,1010.7 451.9,1001.6" fill="none" stroke="#8a8a8a" stroke-width="1.3"/>
<polyline points="669.9,1136.3 577.4,1101.4 577.4,1074" fill="none" stroke="#8a8a8a" stroke-width="1.3"/>
<polyline points="669.9,1182.8 470.7,1077.4 470.7,1060.5" fill="none" stroke="#8a8a8a" stroke-width="1.3"/>
<polyline points="670.8,1238.4 510,1134.2 510,1122.2" fill="none" stroke="#8a8a8a" stroke-width="1.3"/>
<polyline points="459.4,1302.4 443,1302.4 443,1215.8" fill="none" stroke="#8a8a8a" stroke-width="1.3"/>
<polyline points="368.2,1152.8 344,1152.8 344,1120.5" fill="none" stroke="#8a8a8a" stroke-width="1.3"/>
<polyline points="616.2,1290.8 368.7,989.4 368.7,976.3" fill="none" stroke="#8a8a8a" stroke-width="1.3"/>
<circle cx="359.5" cy="745.3" r="3.4" fill="#8a8a8a"/>
<circle cx="340.5" cy="735.4" r="3.4" fill="#8a8a8a"/>
<circle cx="332.5" cy="730" r="3.4" fill="#8a8a8a"/>
<circle cx="244.1" cy="709" r="3.4" fill="#8a8a8a"/>
<circle cx="325.4" cy="758.2" r="3.4" fill="#8a8a8a"/>
<circle cx="337.6" cy="810" r="3.4" fill="#8a8a8a"/>
<circle cx="304.2" cy="841.6" r="3.4" fill="#8a8a8a"/>
<circle cx="253.4" cy="903.5" r="3.4" fill="#8a8a8a"/>
<circle cx="314.4" cy="890.6" r="3.4" fill="#8a8a8a"/>
<circle cx="314.4" cy="944.2" r="3.4" fill="#8a8a8a"/>
<circle cx="299.3" cy="965.2" r="3.4" fill="#8a8a8a"/>
<circle cx="270" cy="1017.6" r="3.4" fill="#8a8a8a"/>
<circle cx="261.2" cy="1061.2" r="3.4" fill="#8a8a8a"/>
<circle cx="240" cy="1115.3" r="3.4" fill="#8a8a8a"/>
<circle cx="349" cy="971.5" r="3.4" fill="#8a8a8a"/>
<circle cx="313" cy="1010.6" r="3.4" fill="#8a8a8a"/>
<circle cx="448.5" cy="691.2" r="3.4" fill="#8a8a8a"/>
<circle cx="375.6" cy="721.3" r="3.4" fill="#8a8a8a"/>
<circle cx="400.5" cy="763" r="3.4" fill="#8a8a8a"/>
<circle cx="369" cy="817" r="3.4" fill="#8a8a8a"/>
<circle cx="425.3" cy="840" r="3.4" fill="#8a8a8a"/>
<circle cx="400.5" cy="869.5" r="3.4" fill="#8a8a8a"/>
<circle cx="474" cy="900.5" r="3.4" fill="#8a8a8a"/>
<circle cx="425.2" cy="921.9" r="3.4" fill="#8a8a8a"/>
<circle cx="525.3" cy="985.2" r="3.4" fill="#8a8a8a"/>
<circle cx="451.9" cy="1001.6" r="3.4" fill="#8a8a8a"/>
<circle cx="577.4" cy="1074" r="3.4" fill="#8a8a8a"/>
<circle cx="470.7" cy="1060.5" r="3.4" fill="#8a8a8a"/>
<circle cx="510" cy="1122.2" r="3.4" fill="#8a8a8a"/>
<circle cx="443" cy="1215.8" r="3.4" fill="#8a8a8a"/>
<circle cx="344" cy="1120.5" r="3.4" fill="#8a8a8a"/>
<circle cx="368.7" cy="976.3" r="3.4" fill="#8a8a8a"/>
<circle cx="199.6" cy="710.7" r="5.2" fill="#8a8a8a"/>
<text x="103.5" y="564" font-size="15" fill="#3f568a" text-anchor="end" textLength="75.0" lengthAdjust="spacingAndGlyphs">Santa Marta</text>
<text x="165.5" y="566" font-size="17.5" fill="#2b4778" text-anchor="end" textLength="29.5" lengthAdjust="spacingAndGlyphs" stroke="#2b4778" stroke-width="0.28">609</text>
<circle cx="41.5" cy="580" r="5.6" fill="#6c9a6b"/>
<circle cx="115" cy="580" r="5.6" fill="#c9a257"/>
<text x="92.0" y="585.5" font-size="18.5" fill="#465b86" text-anchor="end" textLength="42.0" lengthAdjust="spacingAndGlyphs">27,71%</text>
<text x="166" y="585.5" font-size="18.5" fill="#465b86" text-anchor="end" textLength="41" lengthAdjust="spacingAndGlyphs">24,62%</text>
<text x="103.5" y="611.5" font-size="15" fill="#3f568a" text-anchor="end" textLength="74.5" lengthAdjust="spacingAndGlyphs">Barranquilla</text>
<text x="165.5" y="614" font-size="17.5" fill="#2b4778" text-anchor="end" textLength="42.0" lengthAdjust="spacingAndGlyphs" stroke="#2b4778" stroke-width="0.28">1.749</text>
<circle cx="43.5" cy="628.5" r="5.6" fill="#6c9a6b"/>
<circle cx="117" cy="628.5" r="5.6" fill="#c9a257"/>
<text x="92.0" y="634" font-size="18.5" fill="#465b86" text-anchor="end" textLength="39.5" lengthAdjust="spacingAndGlyphs">19,84%</text>
<text x="166" y="634" font-size="18.5" fill="#465b86" text-anchor="end" textLength="40" lengthAdjust="spacingAndGlyphs">20,17%</text>
<text x="103.5" y="666.5" font-size="15" fill="#666666" text-anchor="end" textLength="56.0" lengthAdjust="spacingAndGlyphs">Atlántico</text>
<text x="165.5" y="669" font-size="17.5" fill="#222222" text-anchor="end" textLength="29.5" lengthAdjust="spacingAndGlyphs" stroke="#222222" stroke-width="0.28">498</text>
<circle cx="43.5" cy="683" r="5.6" fill="#6c9a6b"/>
<circle cx="117" cy="683" r="5.6" fill="#c9a257"/>
<text x="92.0" y="688.5" font-size="18.5" fill="#666666" text-anchor="end" textLength="39.5" lengthAdjust="spacingAndGlyphs">23,90%</text>
<text x="166" y="688.5" font-size="18.5" fill="#666666" text-anchor="end" textLength="40" lengthAdjust="spacingAndGlyphs">16,47%</text>
<text x="103.5" y="715" font-size="15" fill="#666666" text-anchor="end" textLength="81.0" lengthAdjust="spacingAndGlyphs">San Andrés y</text>
<text x="103.5" y="730.5" font-size="15" fill="#666666" text-anchor="end" textLength="72.5" lengthAdjust="spacingAndGlyphs">Providencia</text>
<text x="165.5" y="732.5" font-size="17.5" fill="#222222" text-anchor="end" textLength="19.0" lengthAdjust="spacingAndGlyphs" stroke="#222222" stroke-width="0.28">91</text>
<circle cx="43.5" cy="745.5" r="5.6" fill="#6c9a6b"/>
<circle cx="117" cy="745.5" r="5.6" fill="#c9a257"/>
<text x="92.0" y="751" font-size="18.5" fill="#666666" text-anchor="end" textLength="39.5" lengthAdjust="spacingAndGlyphs">36,26%</text>
<text x="166" y="751" font-size="18.5" fill="#666666" text-anchor="end" textLength="25.5" lengthAdjust="spacingAndGlyphs">0,0%</text>
<text x="103.5" y="777" font-size="15" fill="#3f568a" text-anchor="end" textLength="65.0" lengthAdjust="spacingAndGlyphs">Cartagena</text>
<text x="165.5" y="779" font-size="17.5" fill="#2b4778" text-anchor="end" textLength="42.0" lengthAdjust="spacingAndGlyphs" stroke="#2b4778" stroke-width="0.28">1.555</text>
<circle cx="43.5" cy="794" r="5.6" fill="#6c9a6b"/>
<circle cx="117" cy="794" r="5.6" fill="#c9a257"/>
<text x="92.0" y="799.5" font-size="18.5" fill="#465b86" text-anchor="end" textLength="39.5" lengthAdjust="spacingAndGlyphs">18,46%</text>
<text x="166" y="799.5" font-size="18.5" fill="#465b86" text-anchor="end" textLength="40" lengthAdjust="spacingAndGlyphs">18,40%</text>
<text x="103.5" y="826.5" font-size="15" fill="#666666" text-anchor="end" textLength="34.5" lengthAdjust="spacingAndGlyphs">Sucre</text>
<text x="165.5" y="829" font-size="17.5" fill="#222222" text-anchor="end" textLength="29.5" lengthAdjust="spacingAndGlyphs" stroke="#222222" stroke-width="0.28">969</text>
<circle cx="43.5" cy="843" r="5.6" fill="#6c9a6b"/>
<circle cx="117" cy="843" r="5.6" fill="#c9a257"/>
<text x="92.0" y="848.5" font-size="18.5" fill="#666666" text-anchor="end" textLength="39.5" lengthAdjust="spacingAndGlyphs">15,79%</text>
<text x="166" y="848.5" font-size="18.5" fill="#666666" text-anchor="end" textLength="40" lengthAdjust="spacingAndGlyphs">15,22%</text>
<text x="103.5" y="878.5" font-size="15" fill="#666666" text-anchor="end" textLength="54.5" lengthAdjust="spacingAndGlyphs">Córdoba</text>
<text x="165.5" y="881" font-size="17.5" fill="#222222" text-anchor="end" textLength="42.0" lengthAdjust="spacingAndGlyphs" stroke="#222222" stroke-width="0.28">1.115</text>
<circle cx="43.5" cy="896" r="5.6" fill="#6c9a6b"/>
<circle cx="117" cy="896" r="5.6" fill="#c9a257"/>
<text x="92.0" y="901" font-size="18.5" fill="#666666" text-anchor="end" textLength="39.5" lengthAdjust="spacingAndGlyphs">60,54%</text>
<text x="166" y="901" font-size="18.5" fill="#666666" text-anchor="end" textLength="40" lengthAdjust="spacingAndGlyphs">60,95%</text>
<text x="105.26" y="926" font-size="15" fill="#666666" text-anchor="end" textLength="41.1" lengthAdjust="spacingAndGlyphs">Chocó</text>
<text x="168.14" y="927.5" font-size="17.5" fill="#222222" text-anchor="end" textLength="29.3" lengthAdjust="spacingAndGlyphs" stroke="#222222" stroke-width="0.28">306</text>
<circle cx="43.5" cy="942.5" r="5.6" fill="#6c9a6b"/>
<circle cx="117" cy="942.5" r="5.6" fill="#c9a257"/>
<text x="93.54" y="947.5" font-size="18.5" fill="#666666" text-anchor="end" textLength="39.4" lengthAdjust="spacingAndGlyphs">77,45%</text>
<text x="168.2" y="947.5" font-size="18.5" fill="#666666" text-anchor="end" textLength="40.0" lengthAdjust="spacingAndGlyphs">34,90%</text>
<text x="103.5" y="980" font-size="15" fill="#666666" text-anchor="end" textLength="61.0" lengthAdjust="spacingAndGlyphs">Antioquia</text>
<text x="165.5" y="982.5" font-size="17.5" fill="#222222" text-anchor="end" textLength="43.0" lengthAdjust="spacingAndGlyphs" stroke="#222222" stroke-width="0.28">8.334</text>
<circle cx="43.5" cy="996.5" r="5.6" fill="#6c9a6b"/>
<circle cx="117" cy="996.5" r="5.6" fill="#c9a257"/>
<text x="92.0" y="1001.5" font-size="18.5" fill="#666666" text-anchor="end" textLength="39.5" lengthAdjust="spacingAndGlyphs">51,07%</text>
<text x="166" y="1001.5" font-size="18.5" fill="#666666" text-anchor="end" textLength="40" lengthAdjust="spacingAndGlyphs">54,31%</text>
<text x="103.5" y="1035" font-size="15" fill="#666666" text-anchor="end" textLength="41.0" lengthAdjust="spacingAndGlyphs">Caldas</text>
<text x="165.5" y="1037.5" font-size="17.5" fill="#222222" text-anchor="end" textLength="42.0" lengthAdjust="spacingAndGlyphs" stroke="#222222" stroke-width="0.28">1.392</text>
<circle cx="43.5" cy="1051.5" r="5.6" fill="#6c9a6b"/>
<circle cx="117" cy="1051.5" r="5.6" fill="#c9a257"/>
<text x="92.0" y="1056.5" font-size="18.5" fill="#666666" text-anchor="end" textLength="39.5" lengthAdjust="spacingAndGlyphs">28,16%</text>
<text x="166" y="1056.5" font-size="18.5" fill="#666666" text-anchor="end" textLength="40" lengthAdjust="spacingAndGlyphs">28,93%</text>
<text x="103.5" y="1086.5" font-size="15" fill="#666666" text-anchor="end" textLength="54.5" lengthAdjust="spacingAndGlyphs">Risaralda</text>
<text x="165.5" y="1089" font-size="17.5" fill="#222222" text-anchor="end" textLength="42.0" lengthAdjust="spacingAndGlyphs" stroke="#222222" stroke-width="0.28">1.148</text>
<circle cx="43.5" cy="1103.5" r="5.6" fill="#6c9a6b"/>
<circle cx="117" cy="1103.5" r="5.6" fill="#c9a257"/>
<text x="92.0" y="1108.5" font-size="18.5" fill="#666666" text-anchor="end" textLength="39.5" lengthAdjust="spacingAndGlyphs">26,22%</text>
<text x="166" y="1108.5" font-size="18.5" fill="#666666" text-anchor="end" textLength="40" lengthAdjust="spacingAndGlyphs">17,41%</text>
<text x="103.5" y="1133.5" font-size="15" fill="#666666" text-anchor="end" textLength="51.5" lengthAdjust="spacingAndGlyphs">Valle del</text>
<text x="103.5" y="1150" font-size="15" fill="#666666" text-anchor="end" textLength="38.5" lengthAdjust="spacingAndGlyphs">Cauca</text>
<text x="165.5" y="1147.5" font-size="17.5" fill="#222222" text-anchor="end" textLength="43.0" lengthAdjust="spacingAndGlyphs" stroke="#222222" stroke-width="0.28">6.567</text>
<circle cx="43.5" cy="1162.5" r="5.6" fill="#6c9a6b"/>
<circle cx="117" cy="1162.5" r="5.6" fill="#c9a257"/>
<text x="92.0" y="1167.5" font-size="18.5" fill="#666666" text-anchor="end" textLength="39.5" lengthAdjust="spacingAndGlyphs">26,74%</text>
<text x="166" y="1167.5" font-size="18.5" fill="#666666" text-anchor="end" textLength="40" lengthAdjust="spacingAndGlyphs">25,34%</text>
<text x="103.5" y="1201" font-size="15" fill="#666666" text-anchor="end" textLength="38.5" lengthAdjust="spacingAndGlyphs">Cauca</text>
<text x="165.5" y="1203.5" font-size="17.5" fill="#222222" text-anchor="end" textLength="42.0" lengthAdjust="spacingAndGlyphs" stroke="#222222" stroke-width="0.28">1.116</text>
<circle cx="43.5" cy="1217.5" r="5.6" fill="#6c9a6b"/>
<circle cx="117" cy="1217.5" r="5.6" fill="#c9a257"/>
<text x="92.0" y="1222.5" font-size="18.5" fill="#666666" text-anchor="end" textLength="39.5" lengthAdjust="spacingAndGlyphs">61,92%</text>
<text x="166" y="1222.5" font-size="18.5" fill="#666666" text-anchor="end" textLength="40" lengthAdjust="spacingAndGlyphs">61,46%</text>
<text x="103.5" y="1256" font-size="15" fill="#666666" text-anchor="end" textLength="41.0" lengthAdjust="spacingAndGlyphs">Nariño</text>
<text x="165.5" y="1258.5" font-size="17.5" fill="#222222" text-anchor="end" textLength="42.0" lengthAdjust="spacingAndGlyphs" stroke="#222222" stroke-width="0.28">1.458</text>
<circle cx="43.5" cy="1273" r="5.6" fill="#6c9a6b"/>
<circle cx="117" cy="1273" r="5.6" fill="#c9a257"/>
<text x="92.0" y="1278" font-size="18.5" fill="#666666" text-anchor="end" textLength="39.5" lengthAdjust="spacingAndGlyphs">58,64%</text>
<text x="166" y="1278" font-size="18.5" fill="#666666" text-anchor="end" textLength="40" lengthAdjust="spacingAndGlyphs">50,20%</text>
<text x="535" y="666.5" font-size="15" fill="#666666" textLength="61" lengthAdjust="spacingAndGlyphs">La Guajira</text>
<text x="659.4" y="669.0" font-size="17.5" fill="#222222" text-anchor="end" textLength="29" lengthAdjust="spacingAndGlyphs" stroke="#222222" stroke-width="0.28">482</text>
<circle cx="537.5" cy="681.5" r="5.6" fill="#6c9a6b"/>
<circle cx="612.5" cy="681.5" r="5.6" fill="#c9a257"/>
<text x="585.5" y="689.0" font-size="18.5" fill="#666666" text-anchor="end" textLength="39.0" lengthAdjust="spacingAndGlyphs">18,88%</text>
<text x="659.7" y="689.0" font-size="18.5" fill="#666666" text-anchor="end" textLength="32.5" lengthAdjust="spacingAndGlyphs">8,33%</text>
<text x="535" y="714" font-size="15" fill="#666666" textLength="61" lengthAdjust="spacingAndGlyphs">Magalena</text>
<text x="659.4" y="717.0" font-size="17.5" fill="#222222" text-anchor="end" textLength="29" lengthAdjust="spacingAndGlyphs" stroke="#222222" stroke-width="0.28">458</text>
<circle cx="537.5" cy="730.5" r="5.6" fill="#6c9a6b"/>
<circle cx="609" cy="730.5" r="5.6" fill="#c9a257"/>
<text x="585.5" y="738.0" font-size="18.5" fill="#666666" text-anchor="end" textLength="39.0" lengthAdjust="spacingAndGlyphs">31,00%</text>
<text x="659.7" y="738.0" font-size="18.5" fill="#666666" text-anchor="end" textLength="40" lengthAdjust="spacingAndGlyphs">24,66%</text>
<text x="535" y="760.5" font-size="15" fill="#666666" textLength="34" lengthAdjust="spacingAndGlyphs">Cesar</text>
<text x="659.4" y="764.5" font-size="17.5" fill="#222222" text-anchor="end" textLength="42.5" lengthAdjust="spacingAndGlyphs" stroke="#222222" stroke-width="0.28">1.010</text>
<circle cx="537.5" cy="777" r="5.6" fill="#6c9a6b"/>
<circle cx="609" cy="777" r="5.6" fill="#c9a257"/>
<text x="585.5" y="784.0" font-size="18.5" fill="#666666" text-anchor="end" textLength="39.0" lengthAdjust="spacingAndGlyphs">28,12%</text>
<text x="659.7" y="784.0" font-size="18.5" fill="#666666" text-anchor="end" textLength="40" lengthAdjust="spacingAndGlyphs">34,43%</text>
<text x="535" y="809.5" font-size="15" fill="#666666" textLength="41.5" lengthAdjust="spacingAndGlyphs">Bolívar</text>
<text x="659.4" y="812.5" font-size="17.5" fill="#222222" text-anchor="end" textLength="28" lengthAdjust="spacingAndGlyphs" stroke="#222222" stroke-width="0.28">511</text>
<circle cx="537.5" cy="825" r="5.6" fill="#6c9a6b"/>
<circle cx="609" cy="825" r="5.6" fill="#c9a257"/>
<text x="585.5" y="832.5" font-size="18.5" fill="#666666" text-anchor="end" textLength="39.0" lengthAdjust="spacingAndGlyphs">23,48%</text>
<text x="659.7" y="832.5" font-size="18.5" fill="#666666" text-anchor="end" textLength="40" lengthAdjust="spacingAndGlyphs">23,71%</text>
<text x="535" y="851.5" font-size="15" fill="#666666" textLength="26" lengthAdjust="spacingAndGlyphs">Nte.</text>
<text x="535" y="866.5" font-size="15" fill="#666666" textLength="63.5" lengthAdjust="spacingAndGlyphs">Santander</text>
<text x="661.4" y="868.0" font-size="17.5" fill="#222222" text-anchor="end" textLength="42" lengthAdjust="spacingAndGlyphs" stroke="#222222" stroke-width="0.28">1.523</text>
<circle cx="537.5" cy="881.5" r="5.6" fill="#6c9a6b"/>
<circle cx="609" cy="881.5" r="5.6" fill="#c9a257"/>
<text x="588.0" y="888.5" font-size="18.5" fill="#666666" text-anchor="end" textLength="38.0" lengthAdjust="spacingAndGlyphs">37,75%</text>
<text x="661.7" y="888.5" font-size="18.5" fill="#666666" text-anchor="end" textLength="38.5" lengthAdjust="spacingAndGlyphs">41,99%</text>
<text x="743" y="865" font-size="15" fill="#666666" text-anchor="end" textLength="31.5" lengthAdjust="spacingAndGlyphs">Huila</text>
<text x="806.4" y="868.0" font-size="17.5" fill="#222222" text-anchor="end" textLength="30" lengthAdjust="spacingAndGlyphs" stroke="#222222" stroke-width="0.28">864</text>
<circle cx="683.5" cy="881.5" r="5.6" fill="#6c9a6b"/>
<circle cx="756" cy="881.5" r="5.6" fill="#c9a257"/>
<text x="731.5" y="888.5" font-size="18.5" fill="#666666" text-anchor="end" textLength="39.5" lengthAdjust="spacingAndGlyphs">29,98%</text>
<text x="806.7" y="888.5" font-size="18.5" fill="#666666" text-anchor="end" textLength="39.5" lengthAdjust="spacingAndGlyphs">22,70%</text>
<text x="743" y="911" font-size="15" fill="#666666" text-anchor="end" textLength="64" lengthAdjust="spacingAndGlyphs">Santander</text>
<text x="806.4" y="914.5" font-size="17.5" fill="#222222" text-anchor="end" textLength="43.5" lengthAdjust="spacingAndGlyphs" stroke="#222222" stroke-width="0.28">2.544</text>
<circle cx="683.5" cy="927.5" r="5.6" fill="#6c9a6b"/>
<circle cx="756" cy="927.5" r="5.6" fill="#c9a257"/>
<text x="731.5" y="934.5" font-size="18.5" fill="#666666" text-anchor="end" textLength="39.5" lengthAdjust="spacingAndGlyphs">22,92%</text>
<text x="806.7" y="934.5" font-size="18.5" fill="#666666" text-anchor="end" textLength="39.5" lengthAdjust="spacingAndGlyphs">27,06%</text>
<text x="743" y="953.5" font-size="15" fill="#666666" text-anchor="end" textLength="43" lengthAdjust="spacingAndGlyphs">Arauca</text>
<text x="806.4" y="956.0" font-size="17.5" fill="#222222" text-anchor="end" textLength="29.5" lengthAdjust="spacingAndGlyphs" stroke="#222222" stroke-width="0.28">231</text>
<circle cx="683.5" cy="969" r="5.6" fill="#6c9a6b"/>
<circle cx="756" cy="969" r="5.6" fill="#c9a257"/>
<text x="731.5" y="976.0" font-size="18.5" fill="#666666" text-anchor="end" textLength="39.5" lengthAdjust="spacingAndGlyphs">79,65%</text>
<text x="806.7" y="976.0" font-size="18.5" fill="#666666" text-anchor="end" textLength="39.5" lengthAdjust="spacingAndGlyphs">69,16%</text>
<text x="743" y="1003.5" font-size="15" fill="#666666" text-anchor="end" textLength="44" lengthAdjust="spacingAndGlyphs">Boyacá</text>
<text x="806.4" y="1006.5" font-size="17.5" fill="#222222" text-anchor="end" textLength="43.5" lengthAdjust="spacingAndGlyphs" stroke="#222222" stroke-width="0.28">1.394</text>
<circle cx="683.5" cy="1020" r="5.6" fill="#6c9a6b"/>
<circle cx="756" cy="1020" r="5.6" fill="#c9a257"/>
<text x="731.5" y="1027.0" font-size="18.5" fill="#666666" text-anchor="end" textLength="39.5" lengthAdjust="spacingAndGlyphs">47,35%</text>
<text x="806.7" y="1027.0" font-size="18.5" fill="#666666" text-anchor="end" textLength="39.5" lengthAdjust="spacingAndGlyphs">58,70%</text>
<text x="743" y="1051.5" font-size="15" fill="#666666" text-anchor="end" textLength="49.5" lengthAdjust="spacingAndGlyphs">Vichada</text>
<text x="806.4" y="1054.0" font-size="17.5" fill="#222222" text-anchor="end" textLength="20" lengthAdjust="spacingAndGlyphs" stroke="#222222" stroke-width="0.28">41</text>
<circle cx="683.5" cy="1066.5" r="5.6" fill="#6c9a6b"/>
<circle cx="761.5" cy="1066.5" r="5.6" fill="#c9a257"/>
<text x="725.5" y="1073.5" font-size="18.5" fill="#666666" text-anchor="end" textLength="33.5" lengthAdjust="spacingAndGlyphs">2,44%</text>
<text x="806.7" y="1073.5" font-size="18.5" fill="#666666" text-anchor="end" textLength="33.5" lengthAdjust="spacingAndGlyphs">0,00%</text>
<text x="743" y="1098.5" font-size="15" fill="#666666" text-anchor="end" textLength="31.5" lengthAdjust="spacingAndGlyphs">Meta</text>
<text x="806.4" y="1101.5" font-size="17.5" fill="#222222" text-anchor="end" textLength="29.5" lengthAdjust="spacingAndGlyphs" stroke="#222222" stroke-width="0.28">962</text>
<circle cx="683.5" cy="1113" r="5.6" fill="#6c9a6b"/>
<circle cx="756" cy="1113" r="5.6" fill="#c9a257"/>
<text x="731.5" y="1120.5" font-size="18.5" fill="#666666" text-anchor="end" textLength="39.5" lengthAdjust="spacingAndGlyphs">34,41%</text>
<text x="806.7" y="1120.5" font-size="18.5" fill="#666666" text-anchor="end" textLength="39.5" lengthAdjust="spacingAndGlyphs">41,29%</text>
<text x="743" y="1141.5" font-size="15" fill="#666666" text-anchor="end" textLength="48" lengthAdjust="spacingAndGlyphs">Guainia</text>
<text x="806.4" y="1144.0" font-size="17.5" fill="#222222" text-anchor="end" textLength="17.5" lengthAdjust="spacingAndGlyphs" stroke="#222222" stroke-width="0.28">11</text>
<circle cx="683.5" cy="1157.5" r="5.6" fill="#6c9a6b"/>
<circle cx="766.5" cy="1157.5" r="5.6" fill="#c9a257"/>
<text x="723.0" y="1164.5" font-size="18.5" fill="#666666" text-anchor="end" textLength="31.0" lengthAdjust="spacingAndGlyphs">100%</text>
<text x="806.7" y="1164.5" font-size="18.5" fill="#666666" text-anchor="end" textLength="29.5" lengthAdjust="spacingAndGlyphs">100%</text>
<text x="743" y="1188.5" font-size="15" fill="#666666" text-anchor="end" textLength="54.5" lengthAdjust="spacingAndGlyphs">Guaviare</text>
<text x="806.4" y="1192.0" font-size="17.5" fill="#222222" text-anchor="end" textLength="20" lengthAdjust="spacingAndGlyphs" stroke="#222222" stroke-width="0.28">61</text>
<circle cx="683.5" cy="1205" r="5.6" fill="#6c9a6b"/>
<circle cx="756" cy="1205" r="5.6" fill="#c9a257"/>
<text x="731.5" y="1212.0" font-size="18.5" fill="#666666" text-anchor="end" textLength="39.5" lengthAdjust="spacingAndGlyphs">40,98%</text>
<text x="806.7" y="1212.0" font-size="18.5" fill="#666666" text-anchor="end" textLength="39.5" lengthAdjust="spacingAndGlyphs">25,00%</text>
<text x="743" y="1242.5" font-size="15" fill="#666666" text-anchor="end" textLength="44" lengthAdjust="spacingAndGlyphs">Vaupés</text>
<text x="806.4" y="1246.5" font-size="17.5" fill="#222222" text-anchor="end" textLength="8.5" lengthAdjust="spacingAndGlyphs" stroke="#222222" stroke-width="0.28">5</text>
<circle cx="683.5" cy="1258.5" r="5.6" fill="#6c9a6b"/>
<circle cx="756" cy="1258.5" r="5.6" fill="#c9a257"/>
<text x="731.5" y="1266.0" font-size="18.5" fill="#666666" text-anchor="end" textLength="39.5" lengthAdjust="spacingAndGlyphs">40,00%</text>
<text x="806.7" y="1266.0" font-size="18.5" fill="#666666" text-anchor="end" textLength="39.5" lengthAdjust="spacingAndGlyphs">40,00%</text>
<text x="620" y="1295" font-size="15" fill="#3f568a" textLength="45" lengthAdjust="spacingAndGlyphs">Bogotá</text>
<text x="736.4" y="1297.0" font-size="17.5" fill="#2b4778" text-anchor="end" textLength="52.5" lengthAdjust="spacingAndGlyphs" stroke="#2b4778" stroke-width="0.28">14.777</text>
<circle cx="613.5" cy="1311.5" r="5.6" fill="#6c9a6b"/>
<circle cx="686.5" cy="1311.5" r="5.6" fill="#c9a257"/>
<text x="662.0" y="1318.5" font-size="18.5" fill="#465b86" text-anchor="end" textLength="38.0" lengthAdjust="spacingAndGlyphs">23,93%</text>
<text x="736.7" y="1318.5" font-size="18.5" fill="#465b86" text-anchor="end" textLength="39.5" lengthAdjust="spacingAndGlyphs">24,98%</text>
<text x="462.5" y="1306.5" font-size="15" fill="#666666" textLength="65.0" lengthAdjust="spacingAndGlyphs">Amazonas</text>
<text x="589.4" y="1309.5" font-size="17.5" fill="#222222" text-anchor="end" textLength="19" lengthAdjust="spacingAndGlyphs" stroke="#222222" stroke-width="0.28">68</text>
<circle cx="467.5" cy="1323.5" r="5.6" fill="#6c9a6b"/>
<circle cx="541.5" cy="1323.5" r="5.6" fill="#c9a257"/>
<text x="515.5" y="1330.0" font-size="18.5" fill="#666666" text-anchor="end" textLength="37.5" lengthAdjust="spacingAndGlyphs">19,12%</text>
<text x="589.7" y="1330.0" font-size="18.5" fill="#666666" text-anchor="end" textLength="39" lengthAdjust="spacingAndGlyphs">19,35%</text>
<text x="374.7" y="1160" font-size="15" fill="#666666" textLength="51.8" lengthAdjust="spacingAndGlyphs">Caquetá</text>
<text x="490.4" y="1163.3" font-size="17.5" fill="#222222" text-anchor="end" textLength="29.4" lengthAdjust="spacingAndGlyphs" stroke="#222222" stroke-width="0.28">258</text>
<circle cx="367.6" cy="1175.8" r="5.6" fill="#6c9a6b"/>
<circle cx="441" cy="1175.8" r="5.6" fill="#c9a257"/>
<text x="415.7" y="1182.9" font-size="18.5" fill="#666666" text-anchor="end" textLength="37.8" lengthAdjust="spacingAndGlyphs">20,16%</text>
<text x="490.7" y="1182.9" font-size="18.5" fill="#666666" text-anchor="end" textLength="39.3" lengthAdjust="spacingAndGlyphs">21,95%</text>
<text x="273" y="1251.5" font-size="15" fill="#666666" textLength="91" lengthAdjust="spacingAndGlyphs">Cundinamarca</text>
<text x="426.2" y="1254.0" font-size="17.5" fill="#222222" text-anchor="end" textLength="42.8" lengthAdjust="spacingAndGlyphs" stroke="#222222" stroke-width="0.28">1.976</text>
<text x="352.0" y="1274.0" font-size="18.5" fill="#666666" text-anchor="end" textLength="39.0" lengthAdjust="spacingAndGlyphs">22,87%</text>
<text x="426.5" y="1274.0" font-size="18.5" fill="#666666" text-anchor="end" textLength="38.8" lengthAdjust="spacingAndGlyphs">22,89%</text>
<text x="251.5" y="1297.5" font-size="15" fill="#666666" textLength="41.0" lengthAdjust="spacingAndGlyphs">Tolima</text>
<text x="355.4" y="1300.5" font-size="17.5" fill="#222222" text-anchor="end" textLength="41.5" lengthAdjust="spacingAndGlyphs" stroke="#222222" stroke-width="0.28">1.238</text>
<circle cx="231.5" cy="1315" r="5.6" fill="#6c9a6b"/>
<circle cx="305" cy="1315" r="5.6" fill="#c9a257"/>
<text x="281.5" y="1321.5" font-size="18.5" fill="#666666" text-anchor="end" textLength="38.5" lengthAdjust="spacingAndGlyphs">46,28%</text>
<text x="355.7" y="1321.5" font-size="18.5" fill="#666666" text-anchor="end" textLength="40" lengthAdjust="spacingAndGlyphs">47,06%</text>
<text x="31" y="1328.5" font-size="11.3" fill="#666666" textLength="165.5" lengthAdjust="spacingAndGlyphs">Fuente: Superintendencia de Salud</text>
<text x="770" y="1332.5" font-size="10.8" fill="#666666" textLength="70" lengthAdjust="spacingAndGlyphs">Gráfico: LR/WR</text>
</svg>
</body></html>
